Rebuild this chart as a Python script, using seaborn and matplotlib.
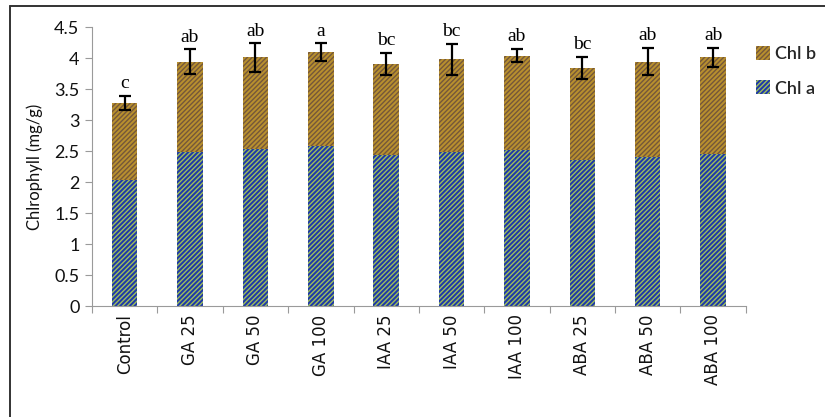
import matplotlib
matplotlib.use("Agg")
import matplotlib.pyplot as plt
from matplotlib.lines import Line2D
from matplotlib.patches import Patch
import seaborn as sns
import pandas as pd
import numpy as np

treatments = ["Control", "GA 25", "GA 50", "GA 100", "IAA 25", "IAA 50",
              "IAA 100", "ABA 25", "ABA 50", "ABA 100"]
chl_a = [2.03, 2.48, 2.53, 2.58, 2.44, 2.48, 2.51, 2.35, 2.40, 2.45]
chl_b = [1.25, 1.46, 1.48, 1.52, 1.46, 1.50, 1.53, 1.49, 1.54, 1.56]
total_err = [0.11, 0.20, 0.23, 0.14, 0.18, 0.25, 0.11, 0.18, 0.22, 0.15]
letters = ["c", "ab", "ab", "a", "bc", "bc", "ab", "bc", "ab", "ab"]

df = pd.DataFrame({"treatment": treatments, "chl_a": chl_a, "chl_b": chl_b})
df["total"] = df["chl_a"] + df["chl_b"]

sns.set_theme(style="white")
plt.rcParams["hatch.linewidth"] = 1.0

fig = plt.figure(figsize=(8.25, 4.17), dpi=100)
ax = fig.add_axes([0.1115, 0.266, 0.7925, 0.669])

b_face, b_hatch = "#B8902E", "#75573A"
a_face, a_hatch = "#1E38A8", "#9DBE5C"
pattern = "///////"

# Chl b sits on top of Chl a: draw the full stack, then the Chl a base over it
sns.barplot(data=df, x="treatment", y="total", ax=ax, color=b_face,
            width=0.39, saturation=1, edgecolor=b_hatch, linewidth=0,
            hatch=pattern)
sns.barplot(data=df, x="treatment", y="chl_a", ax=ax, color=a_face,
            width=0.39, saturation=1, edgecolor=a_hatch, linewidth=0,
            hatch=pattern)

x = np.arange(len(treatments))
ax.errorbar(x, df["total"], yerr=total_err, fmt="none", ecolor="black",
            elinewidth=1.6, capsize=4, capthick=1.6, zorder=5)
for xi, top, err, lab in zip(x, df["total"], total_err, letters):
    ax.text(xi, top + err + 0.06, lab, ha="center", va="bottom",
            fontsize=14, family="Liberation Serif", color="black")

ax.set_ylim(0, 4.5)
ax.set_xlim(-0.5, len(treatments) - 0.5)
ax.set_yticks(np.arange(0, 4.51, 0.5))
ax.set_yticklabels(["0", "0.5", "1", "1.5", "2", "2.5", "3", "3.5", "4", "4.5"],
                   fontsize=13, family="Lato", color="#111111")
ax.set_xticks(x)
ax.set_xticklabels(treatments, rotation=90, fontsize=12, family="DejaVu Sans",
                   color="#111111")
ax.tick_params(axis="x", length=0, pad=6)
ax.set_xticks(np.arange(-0.5, len(treatments), 1.0), minor=True)
ax.tick_params(axis="x", which="minor", bottom=True, length=5, color="#9a9a9a",
               width=0.8, direction="out")
ax.tick_params(axis="y", left=True, length=5, color="#9a9a9a", width=0.8,
               direction="out", pad=4)
ax.set_xlabel("")
ax.set_ylabel("Chlrophyll (mg/g)", fontsize=12, family="Lato", labelpad=8,
              color="#111111")

for side in ["top", "right"]:
    ax.spines[side].set_visible(False)
for side in ["left", "bottom"]:
    ax.spines[side].set_color("#9a9a9a")
    ax.spines[side].set_linewidth(0.8)

handles = [Patch(facecolor=b_face, edgecolor=b_hatch, hatch=pattern, linewidth=0),
           Patch(facecolor=a_face, edgecolor=a_hatch, hatch=pattern, linewidth=0)]
ax.legend(handles, ["Chl b", "Chl a"], loc="upper left",
          bbox_to_anchor=(0.99, 0.99), frameon=False, handlelength=0.8,
          handleheight=0.8, handletextpad=0.3, labelspacing=1.0,
          prop={"family": "Lato", "size": 13, "weight": "semibold"})

# outer frame
fig.add_artist(Line2D([10 / 825, 10 / 825], [0, 1 - 6 / 417], transform=fig.transFigure,
                      color="#333333", linewidth=1.4))
fig.add_artist(Line2D([10 / 825, 1], [1 - 6 / 417, 1 - 6 / 417], transform=fig.transFigure,
                      color="#333333", linewidth=1.4))

fig.savefig("out.png", dpi=100, facecolor="white")
